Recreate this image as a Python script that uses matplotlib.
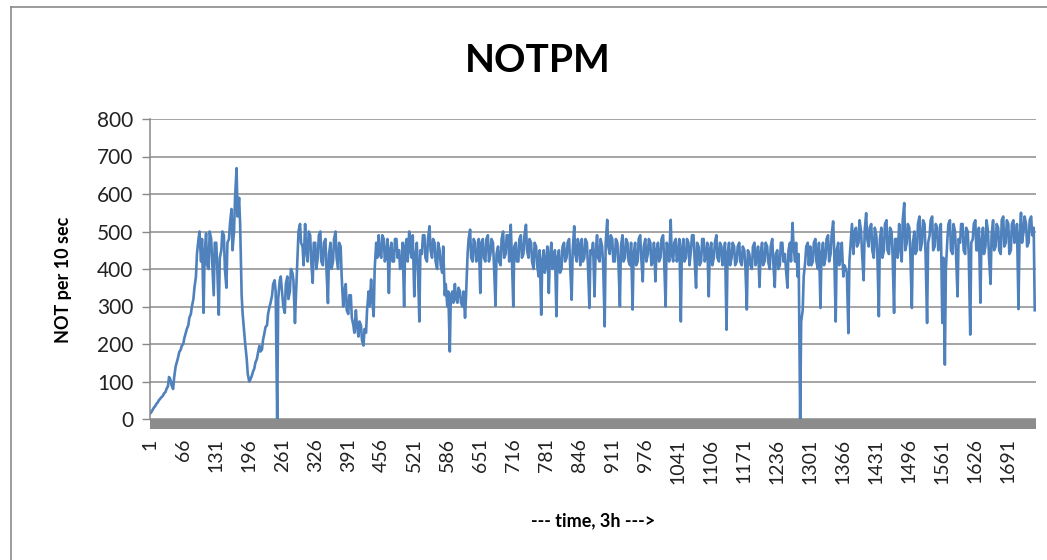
import numpy as np
import matplotlib
matplotlib.use("Agg")
import matplotlib.pyplot as plt
from matplotlib.patches import Rectangle
from matplotlib.lines import Line2D

plt.rcParams['font.family'] = ['Lato', 'DejaVu Sans']

# NOT per 10 sec at samples 1, 6, 11, ...
notpm_a = [
    15, 25, 35, 45, 55, 62, 72, 88, 104, 80,
    140, 165, 185, 200, 230, 250, 280, 320, 380, 480,
    420, 283, 495, 400, 480, 330, 470, 278, 450, 490,
    350, 480, 560, 500, 669, 590, 330, 230, 160, 100,
    115, 135, 160, 195, 185, 230, 250, 300, 330, 370,
    0, 370, 330, 283, 380, 340, 390, 256, 430, 520,
    460, 520, 420, 490, 363, 470, 430, 500, 410, 480,
    309, 470, 420, 500, 400, 460, 300, 360, 280, 330,
    250, 290, 220, 250, 196, 230, 340, 372, 274, 470,
    490, 430, 480, 440, 336, 470, 420, 480, 450, 410,
    300, 480, 500, 430, 327, 470, 260, 440, 490, 420,
    514, 430, 470, 400, 450, 390, 330, 300, 180, 340,
    360, 310, 340, 300, 270, 440, 505, 420, 470, 430,
    336, 480, 420, 490, 440, 470, 302, 460, 410, 500,
    440, 490, 518, 300, 470, 420, 490, 440, 518, 430,
    470, 400, 460, 380, 278, 450, 420, 336, 470, 410,
    274, 450, 400, 470, 430, 480, 318, 514, 420, 460,
    480, 430, 470, 296, 440, 327, 490, 420, 460, 247,
    531, 440, 480, 420, 470, 300, 490, 430, 470, 410,
    292, 470, 420, 490, 367, 480, 440, 470, 420, 367,
    470, 430, 490, 300, 460, 531, 420, 480, 440, 260,
    480, 430, 470, 450, 490, 350, 460, 420, 480, 440,
    327, 470, 430, 490, 420, 460, 440, 238, 470, 430,
    460, 420, 470, 410, 450, 292, 440, 400, 470, 430,
    352, 470, 420, 460, 400, 480, 352, 450, 410, 470,
    440, 350, 470, 523, 420, 380, 0, 290, 420, 470,
    460, 420, 480, 400, 296, 470, 430, 490, 440, 527,
    260, 470, 430, 380, 400, 229, 480, 440, 510, 470,
    500, 370, 549, 460, 520, 430, 490, 274, 510, 450,
    530, 440, 500, 283, 480, 520, 420, 576, 470, 510,
    296, 500, 450, 540, 470, 520, 256, 490, 540, 460,
    510, 460, 256, 145, 480, 530, 440, 500, 327, 470,
    520, 440, 500, 225, 480, 530, 450, 310, 510, 460,
    500, 360, 530, 460, 510, 440, 540, 470, 520, 450,
    530, 480, 293, 550, 500, 520, 470, 540, 510,
]
# same series at samples 3, 8, 13, ...
notpm_b = [
    18, 30, 40, 50, 58, 68, 80, 112, 90, 110,
    150, 178, 195, 215, 240, 270, 300, 350, 440, 500,
    480, 440, 410, 500, 420, 470, 400, 430, 500, 400,
    470, 520, 450, 590, 540, 520, 280, 200, 120, 105,
    125, 150, 175, 180, 210, 245, 280, 310, 360, 340,
    320, 380, 300, 360, 320, 400, 370, 330, 500, 470,
    410, 450, 500, 420, 470, 400, 490, 420, 470, 400,
    440, 400, 480, 430, 470, 380, 340, 290, 330, 270,
    230, 250, 260, 210, 240, 290, 300, 320, 400, 430,
    440, 490, 420, 480, 450, 420, 480, 430, 400, 470,
    460, 420, 450, 490, 430, 410, 450, 490, 430, 480,
    450, 480, 420, 470, 410, 460, 360, 340, 330, 310,
    320, 350, 310, 340, 330, 480, 430, 480, 420, 480,
    470, 430, 480, 420, 480, 410, 440, 420, 480, 430,
    490, 420, 440, 460, 420, 480, 430, 490, 450, 480,
    420, 470, 410, 450, 420, 390, 460, 430, 400, 450,
    430, 390, 460, 420, 470, 410, 450, 440, 480, 410,
    420, 480, 410, 450, 470, 440, 430, 480, 410, 470,
    460, 490, 420, 480, 420, 460, 420, 480, 420, 470,
    440, 410, 480, 430, 460, 420, 480, 410, 470, 450,
    420, 480, 430, 470, 420, 440, 470, 420, 480, 450,
    420, 480, 410, 490, 430, 470, 410, 480, 420, 470,
    450, 410, 470, 430, 470, 410, 470, 440, 410, 470,
    410, 460, 420, 460, 410, 450, 410, 460, 410, 460,
    440, 410, 470, 420, 460, 420, 440, 400, 470, 420,
    400, 450, 420, 460, 470, 440, 260, 380, 460, 410,
    410, 470, 420, 470, 440, 410, 480, 420, 490, 450,
    450, 410, 470, 410, 390, 420, 520, 500, 460, 530,
    440, 500, 480, 510, 450, 510, 440, 480, 430, 520,
    450, 510, 440, 480, 430, 460, 530, 450, 520, 440,
    470, 440, 520, 450, 530, 440, 470, 530, 450, 520,
    450, 520, 430, 400, 520, 450, 520, 440, 480, 520,
    450, 510, 440, 470, 520, 450, 510, 470, 440, 530,
    430, 490, 450, 520, 450, 530, 460, 530, 440, 520,
    470, 520, 480, 470, 540, 460, 530, 490, 290,
]
n_points = 1745
tick_labels = [str(t) for t in range(1, 1692, 65)]
y_ticks = [0, 100, 200, 300, 400, 500, 600, 700, 800]

W, H = 1047, 560
fig = plt.figure(figsize=(W / 100, H / 100), dpi=100)

def px(x, y):
    return x / W, 1 - y / H

ax = fig.add_axes([150 / W, 1 - 419 / H, 886 / W, 300 / H])

xa = np.arange(1, 1 + 5 * len(notpm_a), 5)
xb = np.arange(3, 3 + 5 * len(notpm_b), 5)
xs = np.concatenate([xa, xb])
ys = np.concatenate([notpm_a, notpm_b])
order = np.argsort(xs, kind='stable')
ax.plot(xs[order], ys[order], color='#4F81BD', lw=1.9)

ax.set_xlim(0.5, n_points + 0.5)
ax.set_ylim(0, 800)
ax.set_yticks(y_ticks)
ax.set_yticklabels([str(v) for v in y_ticks], fontsize=15, color='#222222')
ax.set_xticks([int(t) for t in tick_labels])
ax.set_xticklabels(tick_labels, rotation=90, fontsize=14, color='#222222')
ax.tick_params(axis='x', length=0, pad=14)
ax.tick_params(axis='y', length=6, width=1, color='#888888', pad=6)

ax.grid(axis='y', color='#8c8c8c', lw=1.1)
ax.set_axisbelow(True)
for s in ['top', 'right', 'bottom']:
    ax.spines[s].set_visible(False)
ax.spines['left'].set_color('#888888')
ax.spines['left'].set_linewidth(1.1)

# thick grey floor under the zero line
ax.add_patch(Rectangle((0, -10 / 300), 1, 10 / 300, transform=ax.transAxes,
                       clip_on=False, facecolor='#8c8c8c', edgecolor='none'))

fig.text(*px(538, 60), 'NOTPM', fontsize=28, fontweight='bold', ha='center', va='center')
fig.text(*px(63, 280), 'NOT per 10 sec', fontsize=13, fontweight='bold',
         rotation=90, ha='center', va='center')
fig.text(*px(593, 521), '--- time, 3h --->', fontsize=13, fontweight='bold',
         ha='center', va='center')

# chart border (left and top edges visible)
fig.add_artist(Line2D([11 / W, 11 / W], [0, 1 - 7 / H], color='#8a8a8a', lw=1.2))
fig.add_artist(Line2D([11 / W, 1], [1 - 7 / H, 1 - 7 / H], color='#8a8a8a', lw=1.2))

fig.savefig('out.png', dpi=100)
